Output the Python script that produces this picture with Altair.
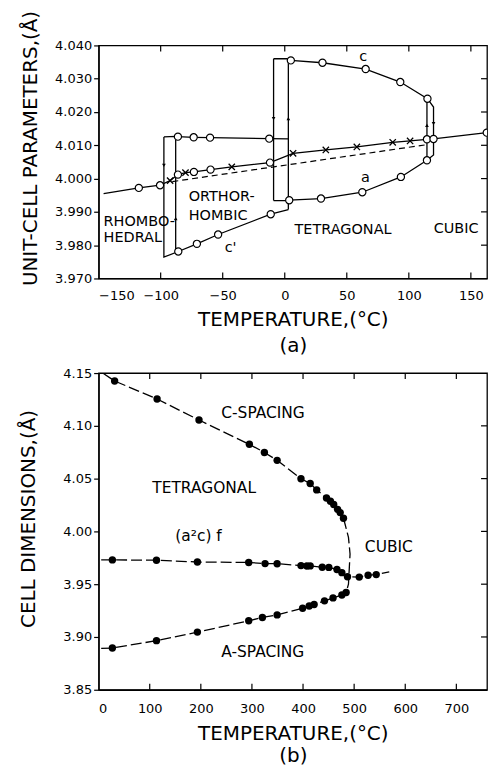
import altair as alt
import pandas as pd

FONT = "DejaVu Sans"

# ================= Panel (a): unit-cell parameters vs temperature =================
# solid line through the pseudo-cubic / mean points (rhombohedral -> cubic)
mid_T = [-146, -117.6, -100.5, -92.4, -86.1, -80.0, -73.2, -59.8, -42.7, -11.9,
         6.7, 33.1, 58.1, 87.0, 101.0, 114.6, 119.9, 162.8]
mid_v = [3.9955, 3.9972, 3.9980, 3.9994, 4.0012, 4.0018, 4.0020, 4.0027, 4.0035, 4.0048,
         4.0076, 4.0086, 4.0095, 4.0109, 4.0113, 4.0118, 4.0119, 4.0138]
# dashed extrapolation line
dash_T = [-90.6, 114.7]
dash_v = [3.9991, 4.0102]
# orthorhombic upper branch (with top of first hysteresis loop)
otop_T = [-97.4, -87.9, -86.1, -73.4, -60.2, -12.5, 2.9]
otop_v = [4.0125, 4.0127, 4.0126, 4.0124, 4.0123, 4.0120, 4.0119]
# first hysteresis loop (rhombohedral <-> orthorhombic)
loop1L_T = [-97.4, -97.4, -85.8]
loop1L_v = [4.0125, 3.9764, 3.9781]
loop1R_T = [-87.9, -87.9]
loop1R_v = [4.0127, 3.9782]
# orthorhombic c' branch
cp_T = [-85.8, -70.8, -53.7, -11.3, 2.9]
cp_v = [3.9781, 3.9804, 3.9832, 3.9893, 3.9907]
# tetragonal c branch
c_T = [-9.0, 2.9, 4.9, 30.4, 65.2, 93.1, 115.0, 119.9, 119.9]
c_v = [4.0360, 4.0360, 4.0355, 4.0348, 4.0329, 4.0290, 4.0240, 4.0215, 4.0119]
# tetragonal a branch
a_T = [-9.0, 2.9, 3.6, 29.2, 62.5, 93.6, 114.6, 119.9, 119.9]
a_v = [3.9934, 3.9934, 3.9935, 3.9940, 3.9959, 4.0005, 4.0055, 4.0071, 4.0119]
# second hysteresis loop (orthorhombic <-> tetragonal) and cooling branch at Tc
loop2L_T = [-9.0, -9.0]
loop2L_v = [4.0360, 3.9934]
loop2R_T = [2.9, 2.9]
loop2R_v = [4.0360, 3.9907]
cool_T = [114.6, 114.6]
cool_v = [4.0240, 4.0055]

# open-circle measurements
circ_T = [-117.6, -100.5, -86.1, -73.2, -59.8, -11.9,
          -86.1, -73.4, -60.2, -12.5,
          -85.8, -70.8, -53.7, -11.3,
          4.9, 30.4, 65.2, 93.1, 115.0,
          3.6, 29.2, 62.5, 93.6, 114.6,
          114.6, 119.9, 162.8]
circ_v = [3.9972, 3.9980, 4.0012, 4.0020, 4.0027, 4.0048,
          4.0126, 4.0124, 4.0123, 4.0120,
          3.9781, 3.9804, 3.9832, 3.9893,
          4.0355, 4.0348, 4.0329, 4.0290, 4.0240,
          3.9935, 3.9940, 3.9959, 4.0005, 4.0055,
          4.0118, 4.0119, 4.0138]
# cross measurements
x_T = [-92.4, -80.0, -42.7, 6.7, 33.1, 58.1, 87.0, 101.0]
x_v = [3.9994, 4.0018, 4.0035, 4.0076, 4.0086, 4.0095, 4.0109, 4.0113]

# direction arrows on the hysteresis lines (cooling = down, heating = up)
arr_dn_T = [-97.4, -9.0, 119.9]
arr_dn_v = [4.0040, 4.0180, 4.0165]
arr_up_T = [-87.9, 2.9, 114.6]
arr_up_v = [3.9880, 4.0180, 4.0160]

# text labels of panel (a)
lab_a = ["RHOMBO-", "HEDRAL", "ORTHOR-", "HOMBIC", "TETRAGONAL", "CUBIC", "c", "a", "c'"]
lab_a_T = [-146, -146, -77.4, -77.4, 7.9, 120, 60, 61.5, -48.4]
lab_a_v = [3.9871, 3.9820, 3.9944, 3.9887, 3.9845, 3.9850, 4.0364, 4.0002, 3.9792]

# ticks of panel (a)
a_xticks = [-150, -100, -50, 0, 50, 100, 150]
a_xticks_in = [-100, -50, 0, 50, 100, 150]
a_yticks = [3.970, 3.980, 3.990, 4.000, 4.010, 4.020, 4.030, 4.040]
a_yticks_in = [3.980, 3.990, 4.000, 4.010, 4.020, 4.030]

# ================= Panel (b): cell dimensions vs temperature =================
cs_T = [31.3, 114.4, 196.4, 295, 324.4, 349.3, 396, 414, 426.7, 445.9, 453.6, 460, 467.6, 472.7, 479.1]
cs_v = [4.1425, 4.1254, 4.1055, 4.0825, 4.0748, 4.0673, 4.0499, 4.0454, 4.0393, 4.0317,
        4.0286, 4.0255, 4.0209, 4.0178, 4.0125]
f_T = [26.9, 113.2, 193.3, 293.7, 325.7, 349.3, 396, 407.5, 414, 437.6, 450.5, 466.4, 476,
       487, 510, 527.3, 543.2]
f_v = [3.9730, 3.9727, 3.9710, 3.9706, 3.9695, 3.9694, 3.9676, 3.9672, 3.9673, 3.9660,
       3.9659, 3.9639, 3.9609, 3.9570, 3.9567, 3.9585, 3.9591]
as_T = [26.9, 113.2, 193.3, 293.7, 320.5, 349.3, 399.2, 412.1, 421.7, 442, 458.7, 476, 484.3]
as_v = [3.8895, 3.8965, 3.9046, 3.9153, 3.9185, 3.9209, 3.9272, 3.9293, 3.9307, 3.9342,
        3.9370, 3.9398, 3.9421]
# line ends drawn beyond the first / last points
cs_line_T = [8] + cs_T
cs_line_v = [4.1500] + cs_v
f_line_T = [5] + f_T + [568.7]
f_line_v = [3.9730] + f_v + [3.9617]
as_line_T = [5] + as_T
as_line_v = [3.8892] + as_v
# dashed transition curve joining the c and a branches
tr_T = [479.1, 482.3, 488.9, 492.0, 490.6, 488.9, 484.3]
tr_v = [4.0125, 4.0068, 3.9943, 3.9786, 3.9659, 3.9500, 3.9421]

lab_b = ["C-SPACING", "TETRAGONAL", "(a\u00b2c) f", "A-SPACING", "CUBIC"]
lab_b_T = [240, 105, 150, 240, 521]
lab_b_v = [4.1123, 4.0408, 3.9956, 3.8862, 3.9853]

b_xticks = [0, 100, 200, 300, 400, 500, 600, 700]
b_xticks_in = [100, 200, 300, 400, 500, 600, 700]
b_yticks = [3.85, 3.90, 3.95, 4.00, 4.05, 4.10, 4.15]
b_yticks_in = [3.90, 3.95, 4.00, 4.05, 4.10]


def series_df(named):
    rows = []
    for name, (ts, vs) in named.items():
        for i, (t, v) in enumerate(zip(ts, vs)):
            rows.append({"series": name, "idx": i, "T": t, "v": v})
    return pd.DataFrame(rows)


def pts_df(ts, vs):
    return pd.DataFrame({"T": ts, "v": vs})


# ---------------- panel (a) ----------------
WA, HA = 390, 234
xs_a = alt.Scale(domain=[-150, 163], nice=False, zero=False)
ys_a = alt.Scale(domain=[3.970, 4.040], nice=False, zero=False)
xenc_a = alt.X("T:Q", scale=xs_a, axis=alt.Axis(
    values=a_xticks, tickSize=0, labelPadding=11, grid=False,
    title=["TEMPERATURE,(\u00b0C)", "(a)"], titlePadding=7, titleLineHeight=26))
yenc_a = alt.Y("v:Q", scale=ys_a, axis=alt.Axis(
    values=a_yticks, format=".3f", tickSize=5, labelPadding=2, grid=False,
    title="UNIT-CELL PARAMETERS,(\u00c5)", titleX=-68, titleY=103,
    titleBaseline="middle"))

solid_a = series_df({
    "mid": (mid_T, mid_v), "otop": (otop_T, otop_v), "l1L": (loop1L_T, loop1L_v),
    "l1R": (loop1R_T, loop1R_v), "cp": (cp_T, cp_v), "c": (c_T, c_v), "a": (a_T, a_v),
    "l2L": (loop2L_T, loop2L_v), "l2R": (loop2R_T, loop2R_v), "cool": (cool_T, cool_v)})

lines_a = alt.Chart(solid_a).mark_line(color="black", strokeWidth=1.3, clip=True).encode(
    x=xenc_a, y=yenc_a, detail="series:N", order="idx:Q")
dashed_a = alt.Chart(pts_df(dash_T, dash_v)).mark_line(
    color="black", strokeWidth=1.2, strokeDash=[6, 4]).encode(x=xenc_a, y=yenc_a)
circles_a = alt.Chart(pts_df(circ_T, circ_v)).mark_point(
    shape="circle", size=52, filled=True, fill="white", stroke="black", strokeWidth=1.2,
    opacity=1, clip=True).encode(x=xenc_a, y=yenc_a)
crosses_a = alt.Chart(pts_df(x_T, x_v)).mark_point(
    shape="M-1,-1L1,1M-1,1L1,-1", size=40, filled=False, stroke="black", strokeWidth=1.3,
    opacity=1).encode(x=xenc_a, y=yenc_a)
arr_dn = alt.Chart(pts_df(arr_dn_T, arr_dn_v)).mark_point(
    shape="triangle-down", size=14, filled=True, color="black", opacity=1).encode(x=xenc_a, y=yenc_a)
arr_up = alt.Chart(pts_df(arr_up_T, arr_up_v)).mark_point(
    shape="triangle-up", size=14, filled=True, color="black", opacity=1).encode(x=xenc_a, y=yenc_a)
text_a = alt.Chart(pd.DataFrame({"T": lab_a_T, "v": lab_a_v, "label": lab_a})).mark_text(
    align="left", baseline="middle", font=FONT, fontSize=14.5, color="black").encode(
    x=xenc_a, y=yenc_a, text="label:N")
tick_bot_a = alt.Chart(pd.DataFrame({"T": a_xticks_in})).mark_rule(
    color="black", strokeWidth=1.2).encode(x=xenc_a, y=alt.value(HA), y2=alt.value(HA - 6))
tick_top_a = alt.Chart(pd.DataFrame({"T": a_xticks_in})).mark_rule(
    color="black", strokeWidth=1.2).encode(x=xenc_a, y=alt.value(0), y2=alt.value(6))
tick_right_a = alt.Chart(pd.DataFrame({"v": a_yticks_in})).mark_rule(
    color="black", strokeWidth=1.2).encode(y=yenc_a, x=alt.value(WA), x2=alt.value(WA - 6))

panel_a = alt.layer(tick_bot_a, tick_top_a, tick_right_a, dashed_a, lines_a,
                    arr_dn, arr_up, circles_a, crosses_a, text_a).properties(width=WA, height=HA)

# ---------------- panel (b) ----------------
WB, HB = 390, 318
xs_b = alt.Scale(domain=[0, 760], nice=False, zero=False)
ys_b = alt.Scale(domain=[3.85, 4.15], nice=False, zero=False)
xenc_b = alt.X("T:Q", scale=xs_b, axis=alt.Axis(
    values=b_xticks, tickSize=0, labelPadding=13, grid=False,
    title=["TEMPERATURE,(\u00b0C)", "(b)"], titlePadding=8, titleLineHeight=22))
yenc_b = alt.Y("v:Q", scale=ys_b, axis=alt.Axis(
    values=b_yticks, format=".2f", tickSize=5, labelPadding=2, grid=False,
    title="CELL DIMENSIONS,(\u00c5)", titleX=-70, titleY=146, titleBaseline="middle"))

lines_bdf = series_df({"cs": (cs_line_T, cs_line_v), "f": (f_line_T, f_line_v),
                       "as": (as_line_T, as_line_v), "tr": (tr_T, tr_v)})
lines_b = alt.Chart(lines_bdf).mark_line(
    color="black", strokeWidth=1.3, strokeDash=[11, 4], clip=True).encode(
    x=xenc_b, y=yenc_b, detail="series:N", order="idx:Q")
dots_b = alt.Chart(pts_df(cs_T + f_T + as_T, cs_v + f_v + as_v)).mark_point(
    shape="circle", size=55, filled=True, color="black", opacity=1).encode(x=xenc_b, y=yenc_b)
text_b = alt.Chart(pd.DataFrame({"T": lab_b_T, "v": lab_b_v, "label": lab_b})).mark_text(
    align="left", baseline="middle", font=FONT, fontSize=15.5, color="black").encode(
    x=xenc_b, y=yenc_b, text="label:N")
tick_bot_b = alt.Chart(pd.DataFrame({"T": b_xticks_in})).mark_rule(
    color="black", strokeWidth=1.2).encode(x=xenc_b, y=alt.value(HB), y2=alt.value(HB - 6))
tick_top_b = alt.Chart(pd.DataFrame({"T": b_xticks_in})).mark_rule(
    color="black", strokeWidth=1.2).encode(x=xenc_b, y=alt.value(0), y2=alt.value(6))
tick_right_b = alt.Chart(pd.DataFrame({"v": b_yticks_in})).mark_rule(
    color="black", strokeWidth=1.2).encode(y=yenc_b, x=alt.value(WB), x2=alt.value(WB - 6))

panel_b = alt.layer(tick_bot_b, tick_top_b, tick_right_b, lines_b, dots_b,
                    text_b).properties(width=WB, height=HB)

chart = alt.vconcat(panel_a, panel_b, spacing=10).properties(
    padding={"left": 10, "top": 0, "right": 0, "bottom": 0}
).configure_view(stroke="black", strokeWidth=1.3).configure_axis(
    domainColor="black", domainWidth=1.3, tickColor="black", tickWidth=1.2,
    labelFont=FONT, titleFont=FONT, labelColor="black", titleColor="black",
    labelFontSize=13, titleFontSize=20, titleFontWeight="normal", grid=False)

chart.save("out.html", embed_options={"renderer": "svg", "actions": False})
